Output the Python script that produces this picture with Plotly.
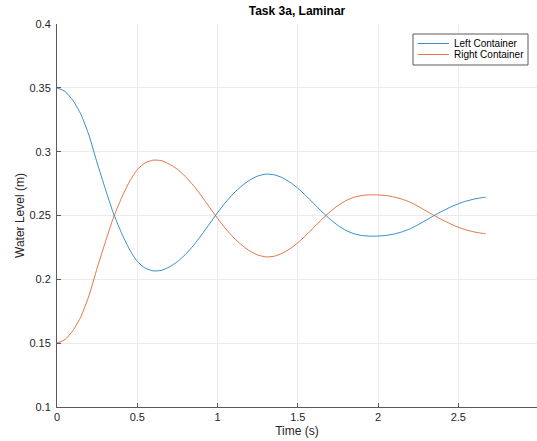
import plotly.graph_objects as go

# Time (s)
time = [0.0, 0.05, 0.1, 0.15, 0.2, 0.25, 0.3, 0.35, 0.4, 0.45, 0.5, 0.55, 0.6, 0.65, 0.7,
        0.75, 0.8, 0.85, 0.9, 0.95, 1.0, 1.05, 1.1, 1.15, 1.2, 1.25, 1.3, 1.35, 1.4, 1.45,
        1.5, 1.55, 1.6, 1.65, 1.7, 1.75, 1.8, 1.85, 1.9, 1.95, 2.0, 2.05, 2.1, 2.15, 2.2,
        2.25, 2.3, 2.35, 2.4, 2.45, 2.5, 2.55, 2.6, 2.65, 2.67]

# Water level, left container (m)
left_level = [0.3500, 0.3472, 0.3400, 0.3290, 0.3125, 0.2912, 0.2712, 0.2522, 0.2368, 0.2238,
              0.2140, 0.2087, 0.2066, 0.2070, 0.2097, 0.2138, 0.2195, 0.2265, 0.2347, 0.2435,
              0.2522, 0.2603, 0.2673, 0.2731, 0.2777, 0.2809, 0.2824, 0.2820, 0.2798, 0.2762,
              0.2714, 0.2656, 0.2593, 0.2530, 0.2472, 0.2422, 0.2383, 0.2357, 0.2343, 0.2338,
              0.2339, 0.2344, 0.2355, 0.2372, 0.2396, 0.2428, 0.2464, 0.2500, 0.2534, 0.2565,
              0.2592, 0.2613, 0.2629, 0.2640, 0.2643]

# Water level, right container (m)
right_level = [0.1500, 0.1528, 0.1600, 0.1710, 0.1875, 0.2088, 0.2288, 0.2478, 0.2632, 0.2762,
               0.2860, 0.2913, 0.2934, 0.2930, 0.2903, 0.2862, 0.2805, 0.2735, 0.2653, 0.2565,
               0.2478, 0.2397, 0.2327, 0.2269, 0.2223, 0.2191, 0.2176, 0.2180, 0.2202, 0.2238,
               0.2286, 0.2344, 0.2407, 0.2470, 0.2528, 0.2578, 0.2617, 0.2643, 0.2657, 0.2662,
               0.2661, 0.2656, 0.2645, 0.2628, 0.2604, 0.2572, 0.2536, 0.2500, 0.2466, 0.2435,
               0.2408, 0.2387, 0.2371, 0.2360, 0.2357]

series_names = ["Left Container", "Right Container"]
series_colors = ["#0072BD", "#D95319"]

x_ticks = [0, 0.5, 1, 1.5, 2, 2.5]
x_tick_labels = ["0", "0.5", "1", "1.5", "2", "2.5"]
y_ticks = [0.1, 0.15, 0.2, 0.25, 0.3, 0.35, 0.4]
y_tick_labels = ["0.1", "0.15", "0.2", "0.25", "0.3", "0.35", "0.4"]

FONT = "Liberation Sans, Helvetica, Arial, sans-serif"
AXIS_COLOR = "#5a5a5a"
TEXT_COLOR = "#262626"
LINE_W = 0.8

W, H = 537, 441
ML, MR, MT, MB = 57, 0, 24, 34
PW, PH = W - ML - MR, H - MT - MB


def px_to_paper(px, py):
    return (px - ML) / PW, (H - MB - py) / PH


fig = go.Figure()
for yvals, name, color in zip([left_level, right_level], series_names, series_colors):
    fig.add_trace(go.Scatter(x=time, y=yvals, mode="lines", name=name, showlegend=False,
                             line=dict(color=color, width=LINE_W, shape="spline", smoothing=0.5)))

# Legend box drawn in paper coordinates (MATLAB-style compact legend)
x0, y0 = px_to_paper(413, 65)
x1, y1 = px_to_paper(528, 34)
shapes = [dict(type="rect", xref="paper", yref="paper", x0=x0, y0=y0, x1=x1, y1=y1,
               line=dict(color=AXIS_COLOR, width=1), fillcolor="white", layer="above")]
annotations = []
for i, (name, color) in enumerate(zip(series_names, series_colors)):
    py = 43.5 + 11 * i
    lx0, ly = px_to_paper(418, py)
    lx1, _ = px_to_paper(449, py)
    shapes.append(dict(type="line", xref="paper", yref="paper", x0=lx0, x1=lx1, y0=ly, y1=ly,
                       line=dict(color=color, width=LINE_W), layer="above"))
    tx, _ = px_to_paper(452, py)
    annotations.append(dict(text=name, xref="paper", yref="paper", x=tx, y=ly,
                            xanchor="left", yanchor="middle", showarrow=False,
                            font=dict(size=10, color="black")))

fig.update_layout(
    width=W, height=H,
    margin=dict(l=ML, r=MR, t=MT, b=MB),
    paper_bgcolor="white", plot_bgcolor="white",
    font=dict(family=FONT, size=11, color=TEXT_COLOR),
    title=dict(text="<b>Task 3a, Laminar</b>", x=(ML + W) / 2 / W, xanchor="center",
               y=1 - 11 / H, yanchor="middle", font=dict(size=12, color="black")),
    showlegend=False,
    shapes=shapes,
    annotations=annotations,
)
fig.update_xaxes(
    range=[0, 2.99], tickvals=x_ticks, ticktext=x_tick_labels,
    showgrid=True, gridcolor="#ebebeb", gridwidth=1,
    showline=True, linecolor=AXIS_COLOR, linewidth=1, mirror=False,
    ticks="inside", ticklen=4, tickcolor=AXIS_COLOR, zeroline=False,
    title=dict(text="Time (s)", font=dict(size=12, color=TEXT_COLOR), standoff=4),
    tickfont=dict(size=11, color=TEXT_COLOR),
)
fig.update_yaxes(
    range=[0.1, 0.4], tickvals=y_ticks, ticktext=y_tick_labels,
    showgrid=True, gridcolor="#ebebeb", gridwidth=1,
    showline=True, linecolor=AXIS_COLOR, linewidth=1, mirror=False,
    ticks="inside", ticklen=4, tickcolor=AXIS_COLOR, zeroline=False,
    title=dict(text="Water Level (m)", font=dict(size=12, color=TEXT_COLOR), standoff=2),
    tickfont=dict(size=11, color=TEXT_COLOR), ticklabelstandoff=3,
)

fig.write_html("out.html")
